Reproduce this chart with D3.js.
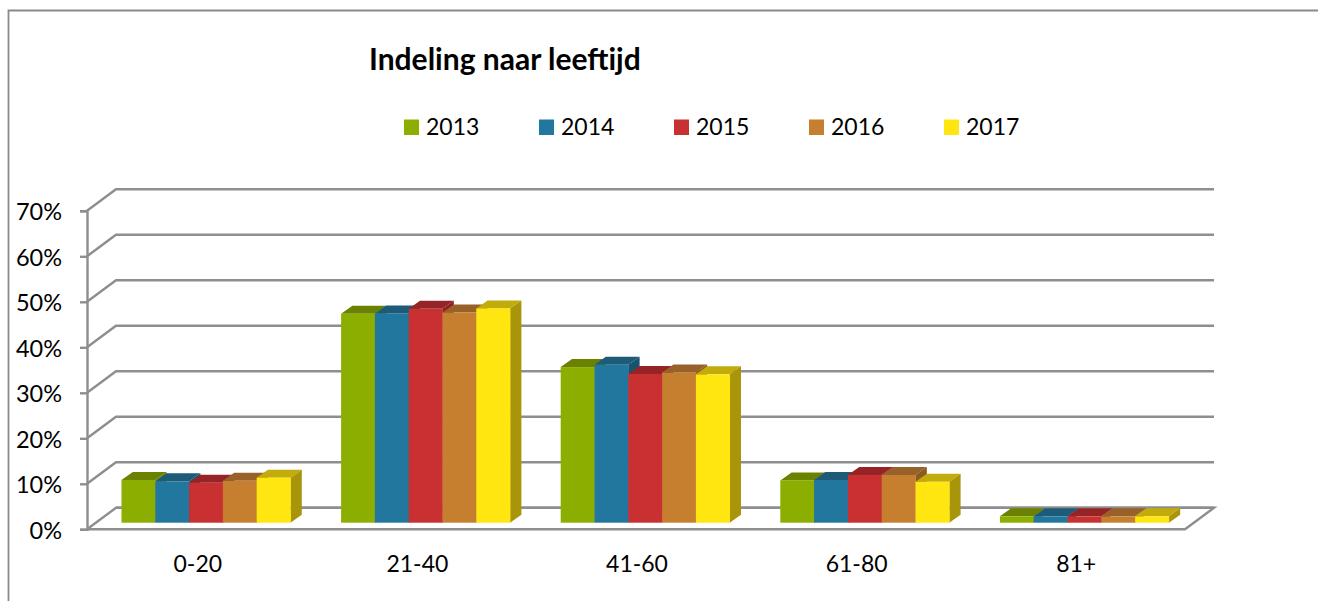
<!DOCTYPE html>
<html>
<head>
<meta charset="utf-8">
<script src="https://cdn.jsdelivr.net/npm/d3@7/dist/d3.min.js"></script>
<style>
html,body{margin:0;padding:0;background:#fff;overflow:hidden}
svg{display:block}
text{font-family:Lato,"Open Sans",sans-serif;fill:#000}
</style>
</head>
<body>
<svg id="chart" width="1318" height="601"></svg>
<script>
const categories = ["0-20","21-40","41-60","61-80","81+"];
const years = ["2013","2014","2015","2016","2017"];
const values2013 = [9.4,45.9,34.2,9.3,1.4];
const values2014 = [9.1,46.0,34.7,9.4,1.4];
const values2015 = [8.8,47.0,32.7,10.5,1.4];
const values2016 = [9.2,46.2,33.0,10.5,1.4];
const values2017 = [9.9,47.1,32.6,9.0,1.4];
const series = [values2013,values2014,values2015,values2016,values2017];
const frontColors = ["#8cae00","#22779e","#c83032","#c67f2e","#ffe610"];
const topColors = ["#6a8200","#1d5b78","#962426","#98612a","#c2ac0c"];
const sideColors = ["#688000","#19526e","#8c2022","#8a5a20","#a99509"];
const yTicks = [0,10,20,30,40,50,60,70];
const title = "Indeling naar leeftijd";

const gridColor = "#8e8e8e";
const svg = d3.select("#chart");

// Frame (cropped border of the picture)
svg.append("path").attr("d","M8.5,601V10.5H1318").attr("fill","none").attr("stroke","#8a8a8a").attr("stroke-width",1.8);

// Scales
const left = 87, right = 1185, floorY = 529.3, topY = 210.8;
const depthX = 29, depthY = 21.5;
const y = d3.scaleLinear().domain([0,70]).range([floorY, topY]);
const x = d3.scaleBand().domain(categories).range([left,right]).paddingInner(0.2305).paddingOuter(0.1152);
const xBar = d3.scaleBand().domain(years).range([0,x.bandwidth()]);

// Walls
const g = svg.append("g");
const wall = g.append("g").attr("fill","none").attr("stroke",gridColor).attr("stroke-width",2.4);
wall.selectAll("path.grid").data(yTicks).join("path").attr("class","grid")
  .attr("d",v=>d3.line()([[left,y(v)],[left+depthX,y(v)-depthY],[right+depthX,y(v)-depthY]]));
wall.append("path").attr("d",d3.line()([[left+depthX,y(0)-depthY],[right+depthX,y(0)-depthY],[right,y(0)],[left,y(0)]]));

// Axes
const yAxis = g.append("g").attr("transform",`translate(${left},0)`)
  .call(d3.axisLeft(y).tickValues(yTicks).tickFormat(d=>d+"%").tickSize(7).tickPadding(18));
yAxis.selectAll("path.domain,line").attr("stroke",gridColor).attr("stroke-width",2.4);
yAxis.selectAll("text").attr("font-size",23.5).attr("dy",9).style("font-family","Lato");

const xAxis = g.append("g").attr("transform",`translate(1,${floorY})`)
  .call(d3.axisBottom(x).tickSize(0).tickPadding(0));
xAxis.select("path.domain").remove();
xAxis.selectAll("text").attr("font-size",23).attr("y",43).attr("dy",0).style("font-family","Lato");

// 3D bars: painted left to right
const barDx = 11.3, barDy = 8, insetX = 9.2, insetY = 6.6;
const rows = categories.flatMap((c,ci)=>years.map((yr,si)=>({c,yr,si,v:series[si][ci]})));
const bars = g.append("g").selectAll("g").data(rows).join("g");
const geo = d=>{
  const x0 = x(d.c)+xBar(d.yr)+insetX, x1 = x0+xBar.bandwidth();
  const yb = y(0)-insetY, yt = y(d.v)-insetY;
  return {x0,x1,yb,yt};
};
const poly = pts=>pts.map(p=>p.join(",")).join(" ");
bars.append("polygon").attr("fill",d=>topColors[d.si]).attr("points",d=>{
  const {x0,x1,yt}=geo(d);
  return poly([[x0,yt],[x1,yt],[x1+barDx,yt-barDy],[x0+barDx,yt-barDy]]);
});
bars.append("polygon").attr("fill",d=>sideColors[d.si]).attr("points",d=>{
  const {x1,yb,yt}=geo(d);
  return poly([[x1,yt],[x1+barDx,yt-barDy],[x1+barDx,yb-barDy],[x1,yb]]);
});
bars.append("rect").attr("fill",d=>frontColors[d.si])
  .attr("x",d=>geo(d).x0).attr("y",d=>geo(d).yt)
  .attr("width",xBar.bandwidth()+0.3).attr("height",d=>geo(d).yb-geo(d).yt);

// Title
svg.append("text").attr("x",369).attr("y",70).attr("font-size",30).attr("font-weight",700).text(title);

// Legend
const legendX = d3.scalePoint().domain(years).range([404,944]);
const legend = svg.append("g").selectAll("g").data(years).join("g")
  .attr("transform",d=>`translate(${legendX(d)},119.5)`);
legend.append("rect").attr("width",15).attr("height",15.5).attr("fill",(d,i)=>frontColors[i]);
legend.append("text").attr("x",22).attr("y",15.5).attr("font-size",23).text(d=>d);
</script>
</body>
</html>
